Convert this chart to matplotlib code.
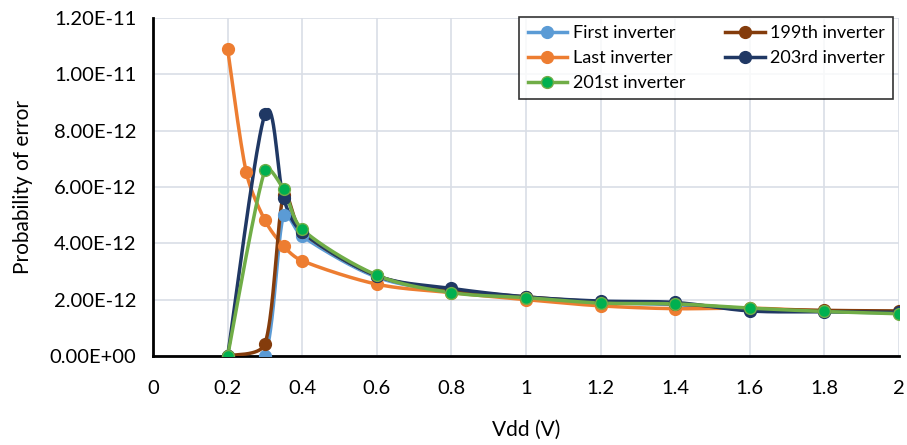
import numpy as np
import matplotlib
matplotlib.use("Agg")
import matplotlib.pyplot as plt
from matplotlib.lines import Line2D

plt.rcParams['font.family'] = ['Lato', 'DejaVu Sans']

# ---- data ----
vdd = [0.2, 0.3, 0.35, 0.4, 0.6, 0.8, 1.0, 1.2, 1.4, 1.6, 1.8, 2.0]
vdd_last = [0.2, 0.25, 0.3, 0.35, 0.4, 0.6, 0.8, 1.0, 1.2, 1.4, 1.6, 1.8, 2.0]

first_inv = [0, 0, 5.0e-12, 4.25e-12, 2.8e-12, 2.3e-12, 2.05e-12, 1.9e-12, 1.82e-12, 1.65e-12, 1.58e-12, 1.52e-12]
last_inv = [1.09e-11, 6.52e-12, 4.82e-12, 3.9e-12, 3.38e-12, 2.55e-12, 2.25e-12, 2.0e-12, 1.78e-12, 1.68e-12, 1.7e-12, 1.6e-12, 1.55e-12]
inv199 = [0, 0.43e-12, 5.7e-12, 4.4e-12, 2.85e-12, 2.35e-12, 2.1e-12, 1.92e-12, 1.85e-12, 1.68e-12, 1.62e-12, 1.6e-12]
inv203 = [0, 8.58e-12, 5.6e-12, 4.4e-12, 2.85e-12, 2.4e-12, 2.1e-12, 1.95e-12, 1.9e-12, 1.6e-12, 1.57e-12, 1.55e-12]
inv201 = [0, 6.6e-12, 5.92e-12, 4.5e-12, 2.87e-12, 2.25e-12, 2.07e-12, 1.88e-12, 1.85e-12, 1.7e-12, 1.58e-12, 1.5e-12]

x_ticks = [0, 0.2, 0.4, 0.6, 0.8, 1, 1.2, 1.4, 1.6, 1.8, 2]
x_tick_labels = ["0", "0.2", "0.4", "0.6", "0.8", "1", "1.2", "1.4", "1.6", "1.8", "2"]
y_ticks = [0, 2e-12, 4e-12, 6e-12, 8e-12, 1e-11, 1.2e-11]
y_tick_labels = ["0.00E+00", "2.00E-12", "4.00E-12", "6.00E-12", "8.00E-12", "1.00E-11", "1.20E-11"]

W, H = 907, 445
fig = plt.figure(figsize=(W/100, H/100), dpi=100)
L, R, B, T = 153, 899, 356, 18
ax = fig.add_axes([L/W, 1-B/H, (R-L)/W, (B-T)/H])
XMAX, YMAX = 2.0, 1.2e-11
sx = (R-L)/XMAX
sy = (B-T)/YMAX


def smooth(xs, ys, n=40):
    # Excel-style smoothed line drawn as cubic Bezier segments in pixel space
    P = np.column_stack([np.array(xs)*sx, np.array(ys)*sy])
    m = len(P)
    tang = []
    for i in range(m):
        p0 = P[i-1] if i > 0 else P[i]
        p2 = P[i+1] if i+1 < m else P[i]
        tang.append(p2 - p0)
    out = []
    t = np.linspace(0, 1, n)[:, None]
    for i in range(m-1):
        p1, p2 = P[i], P[i+1]
        seg_len = np.linalg.norm(p2 - p1)
        l1 = np.linalg.norm(tang[i]) or 1
        l2 = np.linalg.norm(tang[i+1]) or 1
        c1 = p1 + tang[i] / l1 * min(l1 / 6, seg_len / 3)
        c2 = p2 - tang[i+1] / l2 * min(l2 / 6, seg_len / 3)
        seg = ((1-t)**3)*p1 + 3*((1-t)**2)*t*c1 + 3*(1-t)*t**2*c2 + t**3*p2
        out.append(seg if i == 0 else seg[1:])
    out = np.vstack(out)
    return out[:, 0]/sx, out[:, 1]/sy


series = [
    ("First inverter", vdd, first_inv, "#5B9BD5", "#5B9BD5"),
    ("Last inverter", vdd_last, last_inv, "#ED7D31", "#ED7D31"),
    ("199th inverter", vdd, inv199, "#843C0C", "#843C0C"),
    ("203rd inverter", vdd, inv203, "#203864", "#203864"),
    ("201st inverter", vdd, inv201, "#70AD47", "#00B050"),
]

handles = {}
for name, xs, ys, lc, mc in series:
    cx, cy = smooth(xs, ys)
    ax.plot(cx, cy, color=lc, lw=2.5, solid_capstyle='round', zorder=3)
    ax.plot(xs, ys, ls='none', marker='o', ms=8.5, mfc=mc, mec=lc, mew=1, zorder=4)
    handles[name] = Line2D([], [], color=lc, lw=2.5, marker='o', ms=8.5, mfc=mc, mec=lc)

ax.set_xlim(0, XMAX)
ax.set_ylim(0, YMAX)
ax.set_xticks(x_ticks)
ax.set_xticklabels(x_tick_labels)
ax.set_yticks(y_ticks)
ax.set_yticklabels(y_tick_labels)
ax.grid(True, color="#D9DEE6", lw=1.2)
ax.set_axisbelow(True)
for s in ['top', 'right']:
    ax.spines[s].set_visible(False)
for s in ['left', 'bottom']:
    ax.spines[s].set_linewidth(2)
    ax.spines[s].set_color('black')
ax.tick_params(length=0, labelsize=14.5, colors='black')
ax.tick_params(axis='y', pad=12)
ax.tick_params(axis='x', pad=17)
ax.set_xlabel("Vdd (V)", fontsize=15, labelpad=17)
ax.set_ylabel("Probability of error", fontsize=15, labelpad=12)

order = ["First inverter", "Last inverter", "201st inverter", "199th inverter", "203rd inverter"]
leg = ax.legend([handles[k] for k in order], order, ncol=2, loc='upper right',
                bbox_to_anchor=((893-L)/(R-L), 1.0 + (T-17)/(B-T)), borderaxespad=0,
                fontsize=13, frameon=True, fancybox=False, edgecolor='black',
                handlelength=2.2, handletextpad=0.3, columnspacing=2.2,
                borderpad=0.45, labelspacing=0.5)
leg.get_frame().set_linewidth(1.2)

fig.savefig("out.png", dpi=100)
